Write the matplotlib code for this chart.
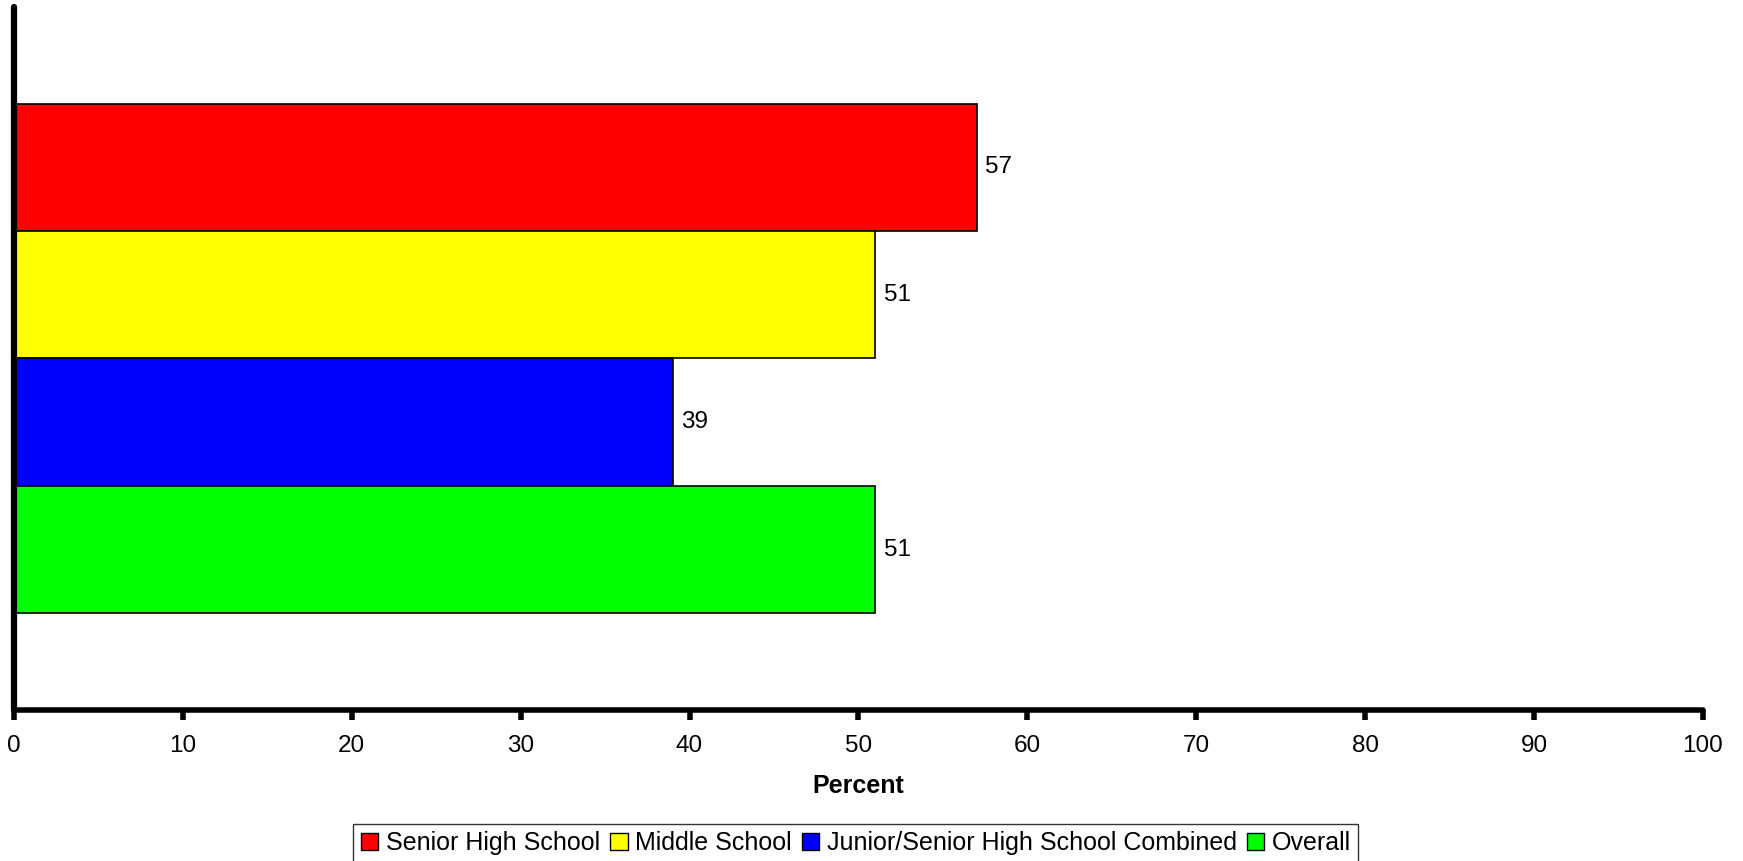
import matplotlib.pyplot as plt
from matplotlib.patches import Patch

plt.rcParams['font.family'] = ['Liberation Sans', 'DejaVu Sans']

# Data
groups = ['Senior High School', 'Middle School',
          'Junior/Senior High School Combined', 'Overall']
values = [57, 51, 39, 51]
colors = ['#ff0000', '#ffff00', '#0000ff', '#00ff00']
xticks = [0, 10, 20, 30, 40, 50, 60, 70, 80, 90, 100]

fig = plt.figure(figsize=(17.43, 8.61), dpi=100)
ax = fig.add_axes([0.008, 0.1754, 0.969, 0.8165])

pos = list(range(len(groups)))
bars = ax.barh(pos, values, height=1.0, color=colors,
               edgecolor='black', linewidth=1.2)
ax.bar_label(bars, labels=[str(v) for v in values], padding=6, fontsize=17.5)

ax.set_ylim(4.26, -1.26)
ax.set_xlim(0, 100)
ax.set_xticks(xticks)
ax.set_xticklabels([str(t) for t in xticks], fontsize=17.5)
ax.set_yticks([])
ax.tick_params(axis='x', length=7, width=4, pad=11)
ax.set_xlabel('Percent', fontsize=18, fontweight='bold', labelpad=12)

for s in ['top', 'right']:
    ax.spines[s].set_visible(False)
ax.spines['left'].set_linewidth(4.5)
ax.spines['bottom'].set_linewidth(4)
ax.spines['left'].set_capstyle('round')
ax.spines['bottom'].set_capstyle('round')

handles = [Patch(facecolor=c, edgecolor='black', linewidth=1) for c in colors]
leg = fig.legend(handles, groups, loc='upper center', bbox_to_anchor=(0.491, 0.043),
                 ncol=4, fontsize=18, frameon=True, fancybox=False,
                 handlelength=0.7, handleheight=0.7, handletextpad=0.3,
                 columnspacing=0.4, borderpad=0.3, borderaxespad=0)
leg.get_frame().set_edgecolor('black')
leg.get_frame().set_linewidth(1)

plt.savefig('out.png', dpi=100)
